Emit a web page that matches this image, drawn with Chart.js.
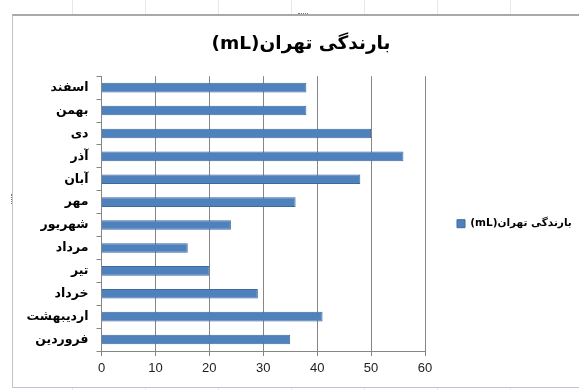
<!DOCTYPE html>
<html lang="fa">
<head>
<meta charset="utf-8">
<script src="https://cdn.jsdelivr.net/npm/chart.js@4.4.1/dist/chart.umd.min.js"></script>
<style>
  html, body { margin: 0; padding: 0; background: #fff; }
  body {
    width: 579px; height: 390px; position: relative; overflow: hidden;
    /* faint sheet gridlines around the chart object */
    background-image: repeating-linear-gradient(90deg, transparent 0 72px, #e3e8ee 72px 73px);
  }
  .frame {
    position: absolute; left: 12px; top: 14px; width: 600px; height: 371px;
    background: #fff; border: 1px solid #bcc5cf; border-top: 2px solid #a9a9a9;
  }
  .grip-top {
    position: absolute; left: 298px; top: 13px; width: 10px; height: 0;
    border-top: 1px dotted #777;
  }
  .grip-left {
    position: absolute; left: 11px; top: 194px; width: 0; height: 10px;
    border-left: 1px dotted #777;
  }
  /* the chart object runs past the right edge of the window */
  canvas { position: absolute; left: 0; top: 0; }
</style>
</head>
<body>
<div class="frame"></div>
<div class="grip-top"></div>
<div class="grip-left"></div>
<canvas id="chart" width="606" height="390" dir="rtl"></canvas>
<script>
// Monthly rainfall, Farvardin to Esfand
const months = ["فروردین", "اردیبهشت", "خرداد", "تیر", "مرداد", "شهریور",
                "مهر", "آبان", "آذر", "دی", "بهمن", "اسفند"];
const rainfall = [35, 41, 29, 20, 16, 24, 36, 48, 56, 50, 38, 38];
const seriesName = "بارندگی تهران(mL)";
const xTicks = [0, 10, 20, 30, 40, 50, 60];

const axisGray = "#868686";
const arabicFont = "'DejaVu Sans', 'Noto Sans', sans-serif";

// Plot box and legend sizing
const plotLeft = 101.5;
const plotRight = 425;
const titleCenter = 301;
const legendPad = 32;
const legendBox = 8;
const legendFontSize = 10.5;
const legendW = 180;

// left padding chosen so the full-width title centres where wanted
const padLeft = 2 * titleCenter - plotRight - legendW;
const yAxisW = plotLeft - padLeft;

const canvas = document.getElementById("chart");
canvas.width = plotRight + legendW;

// pin the legend box to a fixed width so the plot edge stays put
const fixedLegendWidth = {
  id: "fixedLegendWidth",
  beforeLayout(chart) {
    const legend = chart.legend;
    if (legend && !legend.__fixedWidth) {
      const fit = legend.fit;
      legend.fit = function () {
        fit.call(this);
        this.width = legendW;
      };
      legend.__fixedWidth = true;
    }
  },
};

new Chart(canvas, {
  type: "bar",
  data: {
    labels: months,
    datasets: [
      {
        label: seriesName,
        data: rainfall,
        backgroundColor: "#4F81BD",
        borderColor: "#3C6A9F",
        borderWidth: 1,
        barPercentage: 0.42,
        categoryPercentage: 1,
      },
    ],
  },
  options: {
    indexAxis: "y",
    responsive: false,
    animation: false,
    layout: { padding: { top: 14, left: padLeft, right: 0, bottom: 9 } },
    scales: {
      x: {
        min: xTicks[0],
        max: xTicks[xTicks.length - 1],
        afterBuildTicks: (scale) => {
          scale.ticks = xTicks.map((v) => ({ value: v }));
        },
        afterFit: (scale) => { scale.height = 30; },
        grid: { color: axisGray, tickLength: 5, tickColor: axisGray },
        border: { color: axisGray },
        ticks: {
          color: "#222",
          padding: 5,
          font: { family: "'Liberation Sans', Arial, sans-serif", size: 13 },
        },
      },
      y: {
        reverse: true,
        afterFit: (scale) => { scale.width = yAxisW; },
        grid: {
          offset: true,
          drawOnChartArea: false,
          tickLength: 5,
          tickColor: axisGray,
        },
        border: { color: axisGray },
        ticks: {
          color: "#000",
          padding: 8,
          font: { family: arabicFont, size: 12.5, weight: "bold" },
        },
      },
    },
    plugins: {
      title: {
        display: true,
        text: seriesName,
        color: "#000",
        font: { family: arabicFont, size: 18.5, weight: "bold" },
        padding: { top: 19, bottom: 21 },
      },
      legend: {
        position: "right",
        textDirection: "rtl",
        // empty title only pushes the entry down a little
        title: { display: true, text: "", padding: { top: 38, bottom: 0 }, font: { size: 12 } },
        labels: {
          boxWidth: legendBox,
          boxHeight: legendBox,
          padding: legendPad,
          color: "#000",
          font: { family: arabicFont, size: legendFontSize, weight: "bold" },
        },
      },
      tooltip: { enabled: false },
    },
  },
  plugins: [fixedLegendWidth],
});
</script>
</body>
</html>
